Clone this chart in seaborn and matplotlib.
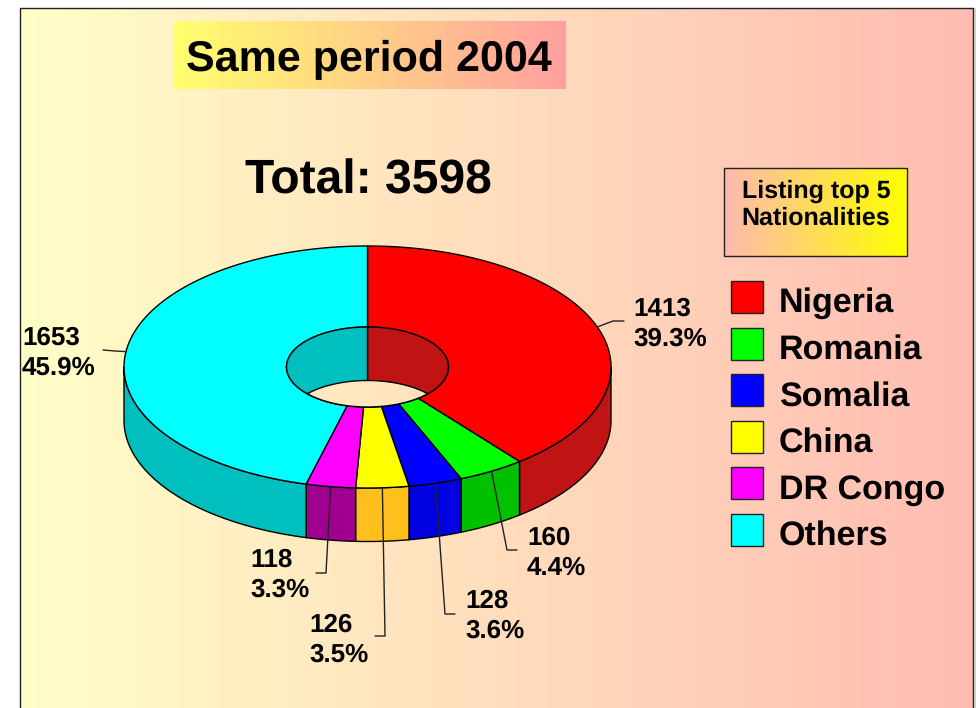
import numpy as np
import pandas as pd
import seaborn as sns
import matplotlib.pyplot as plt
from matplotlib.patches import Polygon, Rectangle

# data
nationalities = ["Nigeria", "Romania", "Somalia", "China", "DR Congo", "Others"]
counts = [1413, 160, 128, 126, 118, 1653]
top_colors = ["#FF0000", "#00FF00", "#0000FF", "#FFFF00", "#FF00FF", "#00FFFF"]
wall_colors = ["#C01414", "#00C000", "#0000E0", "#FFBF1C", "#A00090", "#00BFBF"]

title_text = "Same period 2004"
total_text = "Total: 3598"
listing_text = ["Listing top 5", "Nationalities"]

# label layout, pixels of the slide
label_x = [633, 527, 465, 309, 250, 22]
label_y = [316, 545, 608, 632, 567, 345]
elbows = [(613, 321), (507, 550), (445, 614), (385, 636), (326, 573), (115, 351)]
ends = [(624, 321), (517, 550), (455, 614), (375, 636), (316, 573), (103, 350)]

df = pd.DataFrame({"name": nationalities, "count": counts})
df["share"] = df["count"] / df["count"].sum() * 100
df["end"] = df["count"].cumsum() / df["count"].sum() * 2 * np.pi
df["start"] = df["end"] - df["count"] / df["count"].sum() * 2 * np.pi

sns.set_theme(style="white")
plt.rcParams["font.family"] = ["Liberation Sans", "DejaVu Sans"]
plt.rcParams["font.weight"] = "bold"
plt.rcParams["text.hinting"] = "no_hinting"
plt.rcParams["text.hinting_factor"] = 1

fig = plt.figure(figsize=(9.76, 7.08), dpi=100, facecolor="white")
ax = fig.add_axes([0, 0, 1, 1])
ax.set_xlim(0, 976)
ax.set_ylim(708, 0)
ax.axis("off")

cx, cy = 367.5, 367
rx, ry = 243.5, 121
hx, hy = 81, 40
depth = 53.5


def ell(t, a, b, dy=0):
    return np.column_stack([cx + a * np.sin(t), cy - b * np.cos(t) + dy])


def gradient(x0, x1, y0, y1, c0, c1, z=0, clip=None):
    g = np.linspace(np.array(c0), np.array(c1), 256).reshape(1, 256, 3) / 255
    im = ax.imshow(g, extent=(x0, x1, y1, y0), aspect="auto", zorder=z, interpolation="bilinear")
    ax.set_xlim(0, 976)
    ax.set_ylim(708, 0)
    if clip is not None:
        clip.set_transform(ax.transData)
        im.set_clip_path(clip)
    return im


bg0, bg1 = (255, 255, 200), (255, 188, 178)
gradient(20, 973, 8, 708, bg0, bg1, z=0)
ax.plot([20, 20, 973, 973], [708, 8, 8, 708], color="#222222", lw=1, zorder=1)
ax.plot([975, 975], [9, 708], color="#C8C8C8", lw=1.2, zorder=1)

# title boxes
gradient(173, 566, 21, 89, (255, 255, 110), (255, 160, 160), z=1)
ax.text(369, 71, title_text, ha="center", va="baseline", fontsize=31, color="black", zorder=5)
ax.text(368.5, 193, total_text, ha="center", va="baseline", fontsize=34.7, color="black", zorder=5)

gradient(724, 907, 168, 256, (255, 185, 175), (255, 255, 0), z=1)
ax.add_patch(Rectangle((724, 168), 183, 88, fill=False, ec="#222222", lw=1, zorder=3))
for i, line in enumerate(listing_text):
    ax.text(816, 198 + i * 27, line, ha="center", va="baseline", fontsize=17.9, color="black", zorder=5)

# outer wall, only the front half shows
for i, row in df.iterrows():
    t0, t1 = max(row["start"], np.pi / 2), min(row["end"], 3 * np.pi / 2)
    if t1 <= t0:
        continue
    t = np.linspace(t0, t1, 60)
    pts = np.vstack([ell(t, rx, ry), ell(t[::-1], rx, ry, depth)])
    ax.add_patch(Polygon(pts, fc=wall_colors[i], ec="black", lw=1, joinstyle="round", zorder=2))

# top face
for i, row in df.iterrows():
    t = np.linspace(row["start"], row["end"], 120)
    pts = np.vstack([ell(t, rx, ry), ell(t[::-1], hx, hy)])
    ax.add_patch(Polygon(pts, fc=top_colors[i], ec="black", lw=1, joinstyle="round", zorder=3))

# inner wall of the hole, two halves, then the see-through part
t = np.linspace(0, np.pi, 120)
ax.add_patch(Polygon(ell(t, hx, hy), fc=wall_colors[0], ec="black", lw=1, zorder=4))
t = np.linspace(np.pi, 2 * np.pi, 120)
ax.add_patch(Polygon(ell(t, hx, hy), fc=wall_colors[5], ec="black", lw=1, zorder=4))

tc = np.arccos((depth / 2) / hy)
lower = ell(np.linspace(np.pi - tc, np.pi + tc, 80), hx, hy)
upper = ell(np.linspace(-tc, tc, 80), hx, hy, depth)
lens = np.vstack([upper, lower])
gradient(20, 973, 8, 708, bg0, bg1, z=4.5, clip=Polygon(lens, closed=True))
ax.add_patch(Polygon(lens, fill=False, ec="black", lw=1, zorder=4.6))

# leader lines and value labels
for i, row in df.iterrows():
    mid = (row["start"] + row["end"]) / 2
    p = ell(np.array([mid]), rx, ry)[0]
    ax.plot([p[0], elbows[i][0], ends[i][0]], [p[1], elbows[i][1], ends[i][1]],
            color="#222222", lw=1, zorder=6)
    ax.text(label_x[i], label_y[i], str(row["count"]), fontsize=19, color="black", va="baseline", zorder=7)
    ax.text(label_x[i], label_y[i] + 29.5, f"{row['share']:.1f}%", fontsize=19, color="black",
            va="baseline", zorder=7)

# legend
for i, name in enumerate(nationalities):
    y = 281 + i * 46.6
    ax.add_patch(Rectangle((731, y), 32, 32, fc=top_colors[i], ec="#222222", lw=1, zorder=3))
    ax.text(779, y + 31, name, fontsize=24.3, color="black", va="baseline", zorder=5)

fig.savefig("out.png", dpi=100)
